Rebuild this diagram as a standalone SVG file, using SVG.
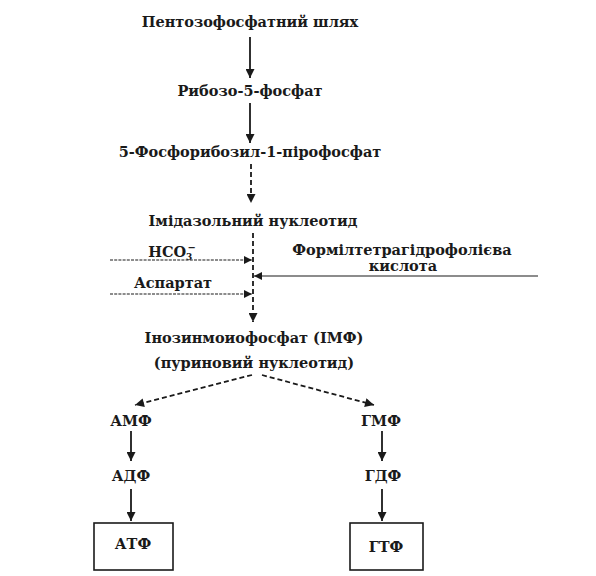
<svg xmlns="http://www.w3.org/2000/svg" width="596" height="576" viewBox="0 0 596 576">
<defs>
<marker id="ah" viewBox="0 0 10 10" refX="10" refY="5" markerWidth="13" markerHeight="9" markerUnits="userSpaceOnUse" orient="auto"><path d="M0,0 L10,5 L0,10 z" fill="#1a1a1a"/></marker>
<marker id="ahs" viewBox="0 0 10 10" refX="10" refY="5" markerWidth="14" markerHeight="8" markerUnits="userSpaceOnUse" orient="auto"><path d="M0,0 L10,5 L0,10 z" fill="#1a1a1a"/></marker>
<style>
text{font-family:"DejaVu Serif","Liberation Serif",serif;font-weight:bold;font-size:14.5px;fill:#1a1a1a;text-anchor:middle}
.s{stroke:#1a1a1a;stroke-width:1.8;fill:none}
.d{stroke-dasharray:5,3}
.t{stroke:#1a1a1a;stroke-width:1.2;fill:none}
.td{stroke-dasharray:3,1.2}
.box{fill:#fff;stroke:#1a1a1a;stroke-width:1.6}
</style>
</defs>
<rect width="596" height="576" fill="#fff"/>
<g id="connectors">
<line class="s" x1="250" y1="37" x2="250" y2="78" marker-end="url(#ah)"/>
<line class="s" x1="250" y1="103" x2="250" y2="143" marker-end="url(#ah)"/>
<line class="s d" x1="251" y1="164" x2="251" y2="203" marker-end="url(#ah)"/>
<line class="s d" x1="253" y1="233" x2="253" y2="322" marker-end="url(#ah)"/>
<line class="t td" x1="110" y1="260" x2="252" y2="260" marker-end="url(#ahs)"/>
<line class="t td" x1="110" y1="294" x2="252" y2="294" marker-end="url(#ahs)"/>
<line class="t" x1="538" y1="276" x2="254" y2="276" marker-end="url(#ahs)"/>
<line class="s d" x1="252" y1="375" x2="135" y2="405" marker-end="url(#ah)"/>
<line class="s d" x1="262" y1="375" x2="374" y2="405" marker-end="url(#ah)"/>
<line class="s" x1="131" y1="431" x2="131" y2="461" marker-end="url(#ah)"/>
<line class="s" x1="131" y1="489" x2="131" y2="521" marker-end="url(#ah)"/>
<line class="s" x1="382" y1="431" x2="382" y2="461" marker-end="url(#ah)"/>
<line class="s" x1="382" y1="489" x2="382" y2="521" marker-end="url(#ah)"/>
</g>
<g id="pentose"><text x="250" y="27">Пентозофосфатний шлях</text></g>
<g id="ribose5p"><text x="250" y="96">Рибозо-5-фосфат</text></g>
<g id="prpp"><text x="250" y="157">5-Фосфорибозил-1-пірофосфат</text></g>
<g id="imidazole"><text x="253" y="226">Імідазольний нуклеотид</text></g>
<g id="hco3"><text x="172" y="257">HCO<tspan font-size="9" dy="3">3</tspan><tspan font-size="10" dx="-5" dy="-9">−</tspan></text></g>
<g id="formyl"><text x="402" y="255">Формілтетрагідрофолієва</text><text x="403" y="271">кислота</text></g>
<g id="aspartate"><text x="173" y="288">Аспартат</text></g>
<g id="imp"><text x="254" y="343">Інозинмоиофосфат (ІМФ)</text><text x="254" y="368">(пуриновий нуклеотид)</text></g>
<g id="amp"><text x="131" y="426">АМФ</text></g>
<g id="adp"><text x="131" y="481">АДФ</text></g>
<g id="atp"><rect class="box" x="94" y="523" width="79" height="47"/><text x="133" y="549">АТФ</text></g>
<g id="gmp"><text x="381" y="426">ГМФ</text></g>
<g id="gdp"><text x="383" y="481">ГДФ</text></g>
<g id="gtp"><rect class="box" x="350" y="523" width="73" height="47"/><text x="386" y="552">ГТФ</text></g>
</svg>
